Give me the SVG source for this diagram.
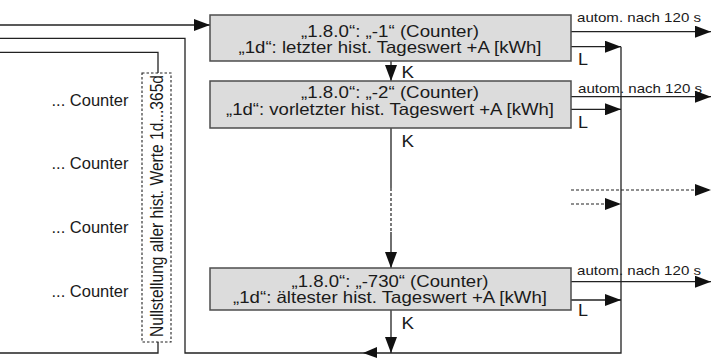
<svg xmlns="http://www.w3.org/2000/svg" width="711" height="358" viewBox="0 0 711 358">
<style>
text{font-family:"Liberation Sans",Arial,sans-serif;fill:#1a1a1a}
.bt{font-size:16.5px;text-anchor:middle}
.box{fill:#dcdcdc;stroke:#4d4d4d;stroke-width:1.5}
.ln{fill:none;stroke:#222;stroke-width:1.3}
.dl{fill:none;stroke:#222;stroke-width:1.2;stroke-dasharray:3 2}
.lbl{font-size:16px}
.au{font-size:13px}
.ct{font-size:16px;text-anchor:end}
</style>
<defs>
<marker id="ah" markerWidth="16" markerHeight="12" refX="16" refY="6" orient="auto" markerUnits="userSpaceOnUse">
<path d="M0,0 L16,6 L0,12 z" fill="#111"/>
</marker>
</defs>

<g id="connectors">
<path class="ln" d="M0,25 H210" marker-end="url(#ah)"/>
<path class="ln" d="M0,38.3 H185 V353 H621 V46.7"/>
<path class="ln" d="M0,52.3 H158 V73"/>
<path class="ln" d="M158,342 V353 H0"/>
<path class="ln" d="M391,61 V81" marker-end="url(#ah)"/>
<path class="ln" d="M391,128 V188"/>
<path class="dl" d="M391,188 V232"/>
<path class="ln" d="M391,232 V268" marker-end="url(#ah)"/>
<path class="ln" d="M391,310 V353" marker-end="url(#ah)"/>
<polygon points="363,353 377,347 377,358" fill="#111"/>
<path class="ln" d="M571,46.7 H621" marker-end="url(#ah)"/>
<path class="ln" d="M571,109.3 H621" marker-end="url(#ah)"/>
<path class="ln" d="M571,300 H621" marker-end="url(#ah)"/>
<path class="ln" d="M571,31.7 H711" marker-end="url(#ah)"/>
<path class="ln" d="M571,96.7 H711" marker-end="url(#ah)"/>
<path class="ln" d="M571,281.7 H711" marker-end="url(#ah)"/>
<path class="dl" d="M571,190 H711" marker-end="url(#ah)"/>
<path class="dl" d="M571,204 H621" marker-end="url(#ah)"/>
<text class="lbl" x="401.5" y="77.5" textLength="12.5" lengthAdjust="spacingAndGlyphs">K</text>
<text class="lbl" x="401.5" y="146.5" textLength="12.5" lengthAdjust="spacingAndGlyphs">K</text>
<text class="lbl" x="401.5" y="328.5" textLength="12.5" lengthAdjust="spacingAndGlyphs">K</text>
<text class="lbl" x="578" y="65" textLength="10" lengthAdjust="spacingAndGlyphs">L</text>
<text class="lbl" x="578" y="128" textLength="10" lengthAdjust="spacingAndGlyphs">L</text>
<text class="lbl" x="578" y="316" textLength="10" lengthAdjust="spacingAndGlyphs">L</text>
<text class="au" x="577" y="21.5" textLength="124" lengthAdjust="spacingAndGlyphs">autom. nach 120 s</text>
<text class="au" x="578" y="93" textLength="124" lengthAdjust="spacingAndGlyphs">autom. nach 120 s</text>
<text class="au" x="577" y="275" textLength="124" lengthAdjust="spacingAndGlyphs">autom. nach 120 s</text>
</g>

<g id="node-1">
<rect class="box" x="210" y="15" width="361" height="46"/>
<text class="bt" x="390" y="36.5" textLength="178" lengthAdjust="spacingAndGlyphs">„1.8.0“: „-1“ (Counter)</text>
<text class="bt" x="390" y="53" textLength="303" lengthAdjust="spacingAndGlyphs">„1d“: letzter hist. Tageswert +A [kWh]</text>
</g>

<g id="node-2">
<rect class="box" x="210" y="81" width="361" height="47"/>
<text class="bt" x="390" y="98" textLength="178" lengthAdjust="spacingAndGlyphs">„1.8.0“: „-2“ (Counter)</text>
<text class="bt" x="390" y="115" textLength="328" lengthAdjust="spacingAndGlyphs">„1d“: vorletzter hist. Tageswert +A [kWh]</text>
</g>

<g id="node-3">
<rect class="box" x="210" y="268" width="361" height="42"/>
<text class="bt" x="390" y="286.5" textLength="197" lengthAdjust="spacingAndGlyphs">„1.8.0“: „-730“ (Counter)</text>
<text class="bt" x="390" y="303" textLength="314" lengthAdjust="spacingAndGlyphs">„1d“: ältester hist. Tageswert +A [kWh]</text>
</g>

<g id="reset">
<rect x="142" y="73" width="29" height="269" fill="none" stroke="#222" stroke-width="1.1" stroke-dasharray="2.5 2"/>
<text font-size="16" text-anchor="middle" transform="translate(163,206) scale(1.15,1) rotate(-90)" textLength="262" lengthAdjust="spacingAndGlyphs">Nullstellung aller hist. Werte 1d...365d</text>
</g>

<g id="counters">
<text class="ct" x="128.5" y="105.5" textLength="77" lengthAdjust="spacingAndGlyphs">... Counter</text>
<text class="ct" x="128.5" y="169" textLength="77" lengthAdjust="spacingAndGlyphs">... Counter</text>
<text class="ct" x="128.5" y="232.5" textLength="77" lengthAdjust="spacingAndGlyphs">... Counter</text>
<text class="ct" x="128.5" y="296.5" textLength="77" lengthAdjust="spacingAndGlyphs">... Counter</text>
</g>
</svg>
